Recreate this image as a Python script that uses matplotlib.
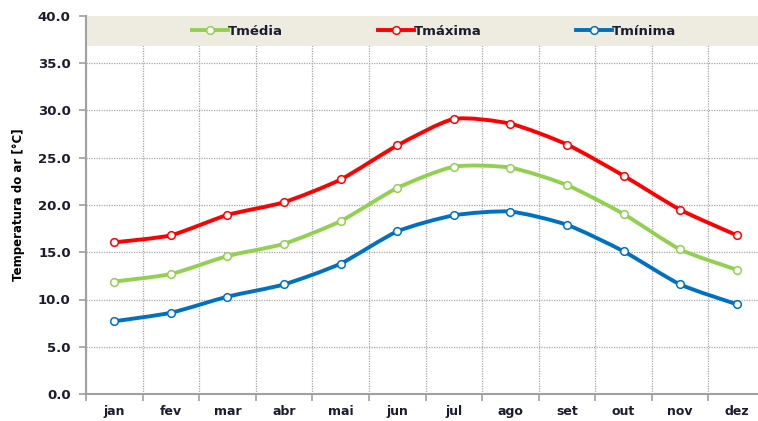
import numpy as np
import matplotlib
matplotlib.use("Agg")
import matplotlib.pyplot as plt
from matplotlib.path import Path
from matplotlib.patches import PathPatch
from matplotlib.lines import Line2D

months = ["jan", "fev", "mar", "abr", "mai", "jun", "jul", "ago", "set", "out", "nov", "dez"]
t_media = [11.9, 12.7, 14.6, 15.9, 18.3, 21.8, 24.05, 23.95, 22.1, 19.05, 15.3, 13.15]
t_maxima = [16.05, 16.8, 18.95, 20.3, 22.7, 26.3, 29.1, 28.6, 26.4, 23.1, 19.5, 16.8]
t_minima = [7.7, 8.6, 10.3, 11.6, 13.8, 17.2, 18.9, 19.3, 17.9, 15.1, 11.6, 9.5]
y_ticks = [0, 5, 10, 15, 20, 25, 30, 35, 40]

series = [("Tmédia", t_media, "#92D050"),
          ("Tmáxima", t_maxima, "#FF0000"),
          ("Tmínima", t_minima, "#0070C0")]

txt = "#1c1c30"
fig = plt.figure(figsize=(7.58, 4.21), dpi=100)
ax = fig.add_axes([86/758, 27/421, (765-86)/758, (394-16)/421])

x = np.arange(len(months))

def smooth_path(xs, ys, k=9.0):
    pts = np.column_stack([xs, ys]).astype(float)
    n = len(pts)
    verts = [pts[0]]
    codes = [Path.MOVETO]
    for i in range(n - 1):
        p0 = pts[i - 1] if i > 0 else pts[i]
        p1 = pts[i]
        p2 = pts[i + 1]
        p3 = pts[i + 2] if i + 2 < n else pts[i + 1]
        c1 = p1 + (p2 - p0) / k
        c2 = p2 - (p3 - p1) / k
        verts += [c1, c2, p2]
        codes += [Path.CURVE4] * 3
    return Path(verts, codes)

lw = 2.8
ms = 5.5
handles = []
for name, vals, col in series:
    patch = PathPatch(smooth_path(x, vals), facecolor="none", edgecolor=col,
                      lw=lw, zorder=3, capstyle="round", joinstyle="round")
    ax.add_patch(patch)
    ax.plot(x, vals, linestyle="none", marker="o", markersize=ms,
            markerfacecolor="white", markeredgecolor=col, markeredgewidth=1.1, zorder=4)
    handles.append(Line2D([], [], color=col, lw=lw, marker="o", markersize=ms,
                          markerfacecolor="white", markeredgecolor=col, markeredgewidth=1.1))

ax.set_xlim(-0.5, len(months) - 0.5)
ax.set_ylim(0, 40)

# band for legend
ax.axhspan(36.8, 40, color="#EEECE1", zorder=2, lw=0)

ax.set_yticks(y_ticks)
ax.set_yticklabels([f"{v:.1f}" for v in y_ticks])
ax.set_xticks(np.arange(-0.5, len(months) + 0.5, 1))
ax.set_xticklabels([])
ax.set_xticks(x, minor=True)
ax.set_xticklabels(months, minor=True)
ax.tick_params(axis="x", which="minor", length=0, pad=8, labelsize=9, labelcolor=txt)
ax.tick_params(axis="x", which="major", length=5, width=1.2, color="#a0a0a0", direction="out")
ax.tick_params(axis="y", length=5, width=1.2, color="#a0a0a0", direction="out", labelsize=9.5,
               labelcolor=txt, pad=6)
for lab in ax.get_xticklabels(minor=True) + ax.get_yticklabels():
    lab.set_fontweight("bold")

ax.grid(True, which="major", color="#a8a8a8", linestyle=(0, (1, 1)), lw=0.9, zorder=1)
ax.set_axisbelow(True)
for s in ["top", "right"]:
    ax.spines[s].set_visible(False)
for s in ["left", "bottom"]:
    ax.spines[s].set_color("#a0a0a0")
    ax.spines[s].set_linewidth(1.5)

ax.set_ylabel("Temperatura do ar [°C]", fontsize=8.5, fontweight="bold", color="black", labelpad=9)

leg = ax.legend(handles, [s[0] for s in series], loc="center", bbox_to_anchor=(0.513, 0.96),
                ncol=3, frameon=False, handlelength=2.7, handletextpad=0.0,
                columnspacing=7.2, prop={"weight": "bold", "size": 9.5})
for t in leg.get_texts():
    t.set_color(txt)
leg.set_zorder(5)

fig.savefig("out.png", dpi=100)
